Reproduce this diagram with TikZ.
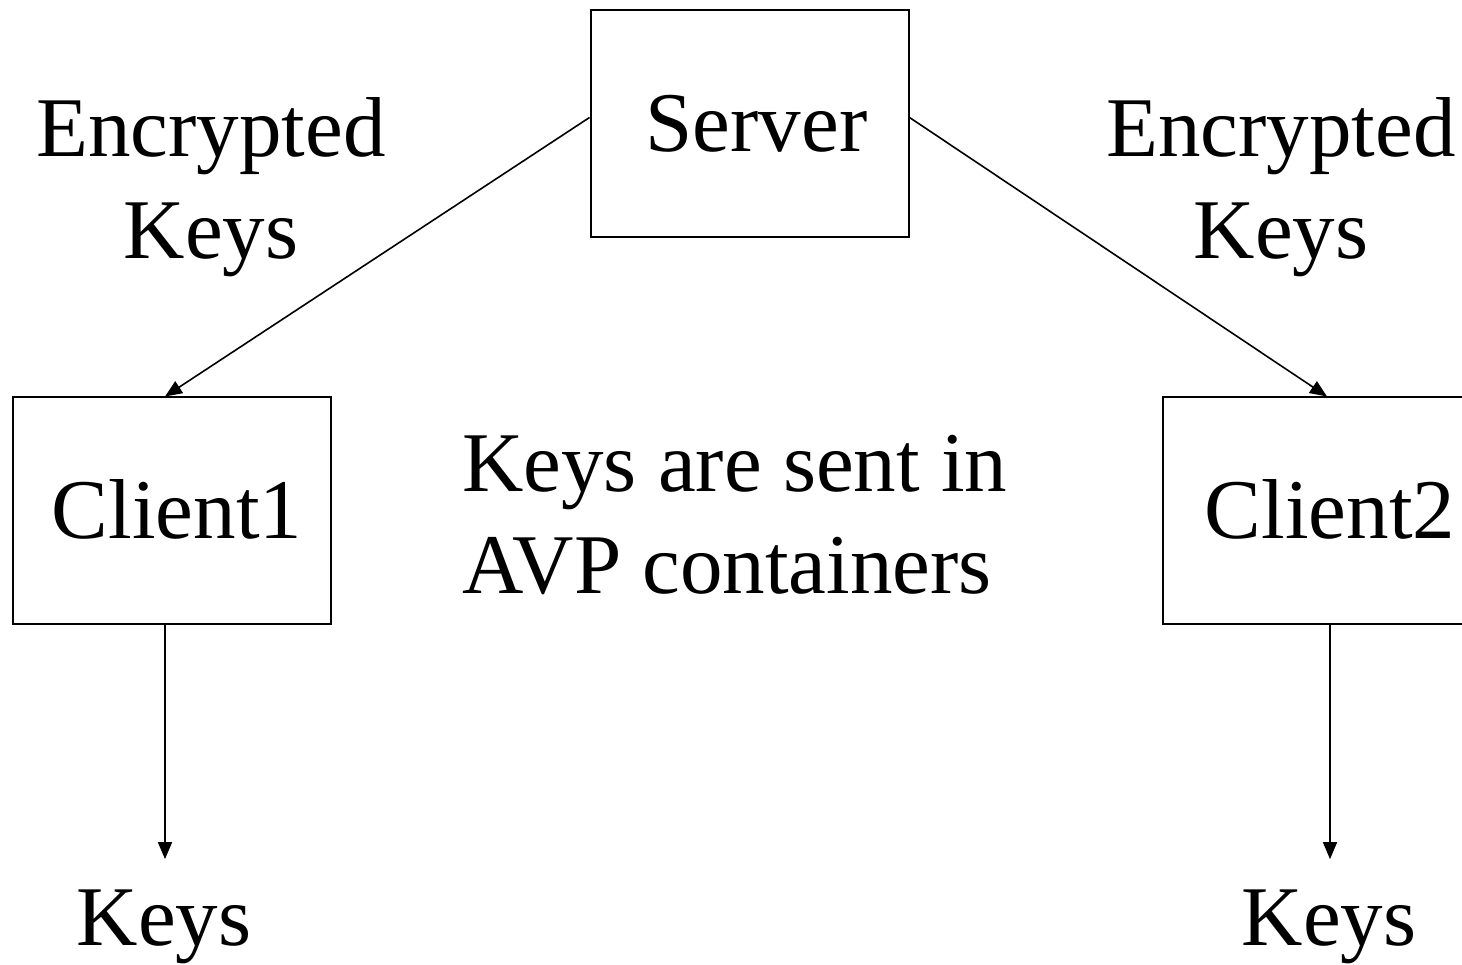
\documentclass[tikz,border=0pt]{standalone}
\usepackage{fontspec}
\setmainfont{Liberation Serif}
\usetikzlibrary{arrows.meta}
\begin{document}
\begin{tikzpicture}[x=1pt,y=1pt,
  box/.style={draw=black, line width=2pt, minimum width=318pt, minimum height=227pt, inner sep=0pt, font=\fontsize{85}{102}\selectfont},
  lbl/.style={inner sep=0pt, font=\fontsize{85}{102}\selectfont},
  conn/.style={draw=black, line width=1.6pt, -{Triangle[length=17pt,width=14pt]}}]
\useasboundingbox (0,0) rectangle (1462,964);
\clip (0,0) rectangle (1462,964);
\fill[white] (0,0) rectangle (1462,964);
\node[box] (server) at (749.5,840.5) {\hspace{14pt}\raisebox{1pt}{Server}};
\node[box] (c1) at (172,453) {\hspace{10pt}\raisebox{4pt}{Client1}};
\node[box] (c2) at (1322,453) {\hspace{16pt}\raisebox{4pt}{Client2}};
\node[lbl, anchor=base] (enc1) at (211,807) {\begin{tabular}[t]{@{}c@{}}Encrypted\\Keys\end{tabular}};
\node[lbl, anchor=base] (enc2) at (1281,807) {\begin{tabular}[t]{@{}c@{}}Encrypted\\Keys\end{tabular}};
\node[lbl, anchor=base west] (mid) at (462,472) {\begin{tabular}[t]{@{}l@{}}Keys are sent in\\AVP containers\end{tabular}};
\node[lbl, anchor=base] (k1) at (164,19) {Keys};
\node[lbl, anchor=base] (k2) at (1329,19) {Keys};
\draw[conn] ([yshift=6pt]server.west) -- ([xshift=-7pt]c1.north);
\draw[conn] ([yshift=6pt]server.east) -- ([xshift=5pt]c2.north);
\draw[conn, shorten >=30pt] ([xshift=-7pt]c1.south) -- ([xshift=1pt]k1.north);
\draw[conn, shorten >=30pt] ([xshift=8pt]c2.south) -- ([xshift=1pt]k2.north);
\end{tikzpicture}
\end{document}
